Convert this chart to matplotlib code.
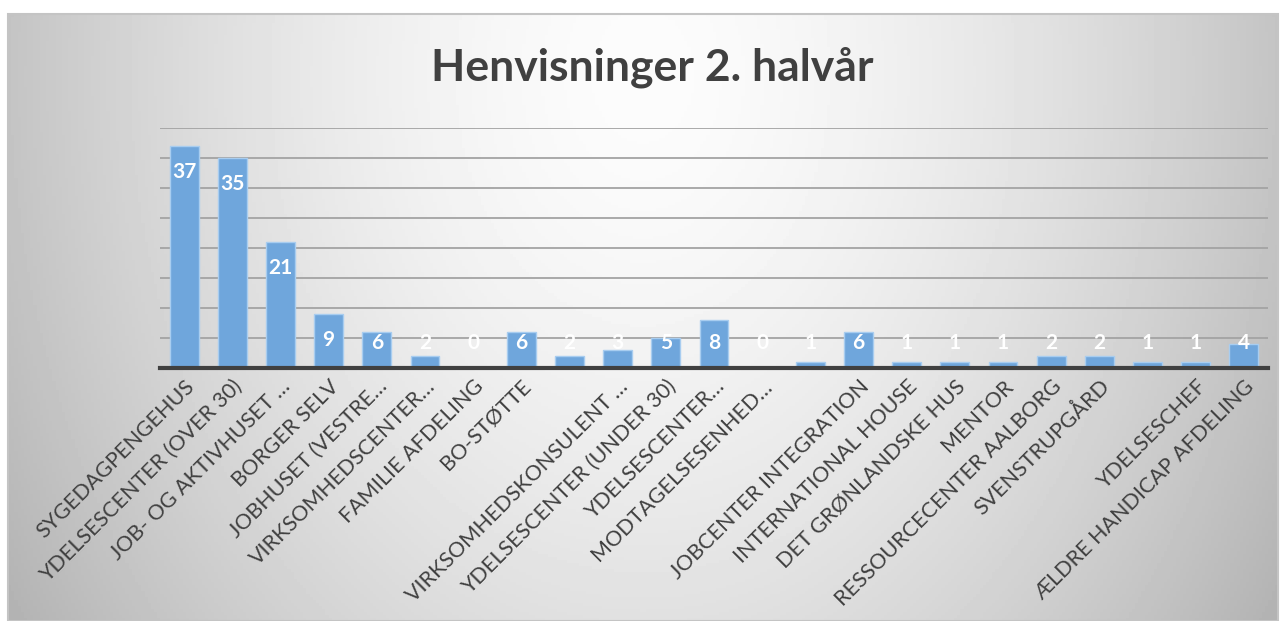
import numpy as np
import matplotlib.pyplot as plt
from matplotlib.patches import Rectangle

# Data
kategorier = ["SYGEDAGPENGEHUS", "YDELSESCENTER (OVER 30)", "JOB- OG AKTIVHUSET …",
              "BORGER SELV", "JOBHUSET (VESTRE…", "VIRKSOMHEDSCENTER…",
              "FAMILIE AFDELING", "BO-STØTTE", "", "VIRKSOMHEDSKONSULENT …",
              "YDELSESCENTER (UNDER 30)", "YDELSESCENTER…", "MODTAGELSESENHED…", "",
              "JOBCENTER INTEGRATION", "INTERNATIONAL HOUSE", "DET GRØNLANDSKE HUS",
              "MENTOR", "RESSOURCECENTER AALBORG", "SVENSTRUPGÅRD", "",
              "YDELSESCHEF", "ÆLDRE HANDICAP AFDELING"]
antal = [37, 35, 21, 9, 6, 2, 0, 6, 2, 3, 5, 8, 0, 1, 6, 1, 1, 1, 2, 2, 1, 1, 4]
titel = "Henvisninger 2. halvår"

plt.rcParams['font.family'] = ['Lato', 'DejaVu Sans']

W, H = 1285, 621
fig = plt.figure(figsize=(W / 100, H / 100), dpi=100)
fig.patch.set_facecolor('white')

# baggrund med gradient
bg = fig.add_axes([8 / W, 0, (1278 - 8) / W, (H - 14) / H])
gx, gy = np.meshgrid(np.linspace(-1, 1, 400), np.linspace(0, 1, 200))
r = np.sqrt(gx ** 2 + ((gy - 0.1) / 1.4) ** 2)
grad = np.clip(252 - 56 * r ** 1.6, 180, 255) / 255
bg.imshow(grad, cmap='gray', vmin=0, vmax=1, aspect='auto', extent=[0, 1, 0, 1], origin='upper')
bg.set_axis_off()
fig.add_artist(Rectangle((8 / W, 0), (1278 - 8) / W, (H - 14) / H, transform=fig.transFigure,
                         fill=False, edgecolor='#c4c4c4', lw=1.5))

ax = fig.add_axes([160 / W, 1 - 368 / H, (1268 - 160) / W, (368 - 128) / H])
ax.patch.set_alpha(0)
x = np.arange(len(antal))
ax.bar(x, antal, width=0.6, color='#6fa6dc', edgecolor='#a8cdf0', lw=1, zorder=3)
ax.set_xlim(-0.5, len(antal) - 0.5)
ax.set_ylim(0, 40)
ax.set_yticks(np.arange(5, 41, 5))
ax.yaxis.grid(True, color='#a3a3a3', lw=1.3, zorder=0)
ax.tick_params(axis='y', length=0, labelleft=False)
ax.tick_params(axis='x', length=0, pad=6)
for s in ['top', 'right', 'left']:
    ax.spines[s].set_visible(False)
ax.spines['bottom'].set_color('#404040')
ax.spines['bottom'].set_linewidth(3)
ax.spines['bottom'].set_zorder(4)
ax.set_xticks(x)
ax.set_xticklabels(kategorier, rotation=45, ha='right', rotation_mode='anchor',
                   fontsize=15.5, color='#404040')

for xi, v in zip(x, antal):
    ax.text(xi, max(v - 4.3, 4.1), str(v), ha='center', va='center', color='white',
            fontsize=15, fontweight='bold', zorder=5)

fig.text(652 / W, 1 - 67 / H, titel, ha='center', va='center', fontsize=32,
         fontweight='bold', color='#404040')

fig.savefig('out.png', dpi=100)
